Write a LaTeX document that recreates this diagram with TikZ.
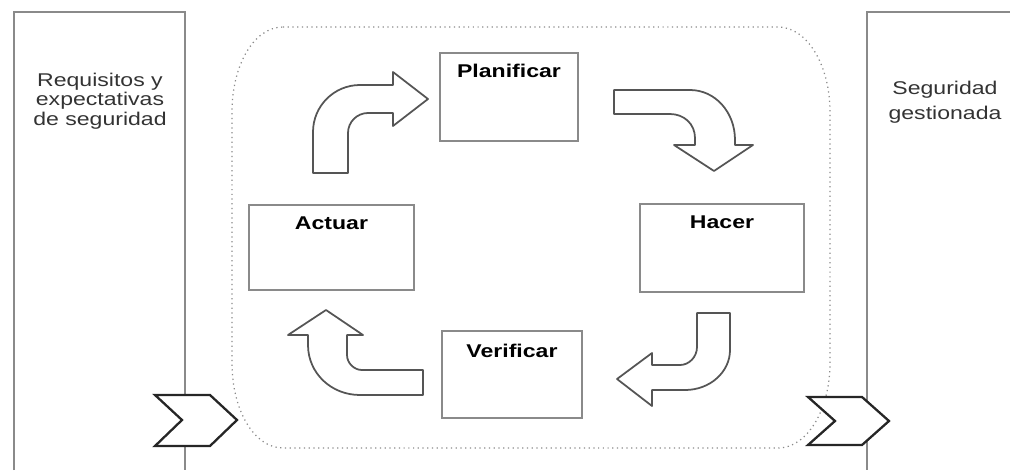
\documentclass[tikz,border=0pt]{standalone}
\usepackage{fontspec}
\setmainfont{Liberation Sans}[FakeStretch=1.25]
\usepackage{tikz}
\usepackage{xcolor}

\definecolor{boxgray}{HTML}{8A8A8A}
\definecolor{arrowgray}{HTML}{555555}
\definecolor{txtgray}{HTML}{333333}

\tikzset{
  phase/.style={draw=boxgray,line width=0.9pt,minimum width=2.76cm,minimum height=1.76cm,inner sep=0pt},
  phasename/.style={below,yshift=-0.12cm,font=\fontsize{10.5}{12}\selectfont\bfseries},
  sidetext/.style={align=center,text=txtgray,font=\fontsize{10.5}{11}\selectfont},
  blockarrow/.style={draw=arrowgray,line width=1pt,fill=white,line join=round},
  chevron/.style={draw=black!85,line width=1.3pt,fill=white,line join=miter}
}

\begin{document}
\begin{tikzpicture}[x=0.02cm,y=-0.02cm]
    \useasboundingbox (0,0) rectangle (1010,470);

    % Input and output
    \draw [boxgray,line width=0.9pt] (14,470) -- (14,12) -- (185,12) -- (185,470);
    \draw [boxgray,line width=0.9pt] (1010,12) -- (867,12) -- (867,470);
    \node (req) at (100,101) [sidetext] {Requisitos y\\expectativas\\de seguridad};
    \node (seg) at (945,102) [sidetext,font=\fontsize{10.5}{14}\selectfont] {Seguridad\\gestionada};

    % Dotted frame round the cycle
    \draw [boxgray,dotted,line width=0.7pt] (283,27) -- (778,27)
      .. controls (807,27) and (830,65) .. (830,112) -- (830,363)
      .. controls (830,410) and (807,448) .. (778,448) -- (283,448)
      .. controls (254,448) and (232,410) .. (232,363) -- (232,112)
      .. controls (232,65) and (254,27) .. (283,27);

    % The four phases
    \node (plan) at (509,97) [phase] {};
    \node (act) at (331.5,247.5) [phase,minimum width=3.3cm,minimum height=1.7cm] {};
    \node (hacer) at (722,248) [phase,minimum width=3.28cm] {};
    \node (verif) at (512,374.5) [phase,minimum width=2.8cm,minimum height=1.74cm] {};
    \node at (plan.north) [phasename] {Planificar};
    \node at (act.north) [phasename] {Actuar};
    \node at (hacer.north) [phasename] {Hacer};
    \node at (verif.north) [phasename,yshift=-0.04cm] {Verificar};

    % Curved block arrows
    \draw [blockarrow] (313,173) -- (313,132) .. controls (313,106) and (334,85) .. (360,85)
      -- (393,85) -- (393,72) -- (428,99) -- (393,126) -- (393,113) -- (368,113)
      .. controls (357,113) and (348,122) .. (348,133) -- (348,173) -- cycle;
    \draw [blockarrow] (614,90) -- (690,90) .. controls (715,90) and (735,112) .. (735,140)
      -- (735,145) -- (753,145) -- (714,171) -- (674,145) -- (695,145) -- (695,138)
      .. controls (695,124) and (684,114) .. (670,114) -- (614,114) -- cycle;
    \draw [blockarrow] (697,313) -- (730,313) -- (730,350) .. controls (730,372) and (710,390) .. (685,390)
      -- (652,390) -- (652,406) -- (617,379) -- (652,353) -- (652,365) -- (680,365)
      .. controls (689,365) and (697,357) .. (697,347) -- cycle;
    \draw [blockarrow] (423,370) -- (362,370) .. controls (354,370) and (347,363) .. (347,355)
      -- (347,335) -- (363,335) -- (326,310) -- (288,335) -- (308,335) -- (308,345)
      .. controls (308,373) and (331,395) .. (360,395) -- (423,395) -- cycle;

    % Chevrons in and out
    \draw [chevron] (155,395) -- (210,395) -- (237,420) -- (210,446) -- (155,446) -- (182,420) -- cycle;
    \draw [chevron] (808,397) -- (862,397) -- (889,421) -- (862,445) -- (808,445) -- (835,421) -- cycle;
\end{tikzpicture}
\end{document}
